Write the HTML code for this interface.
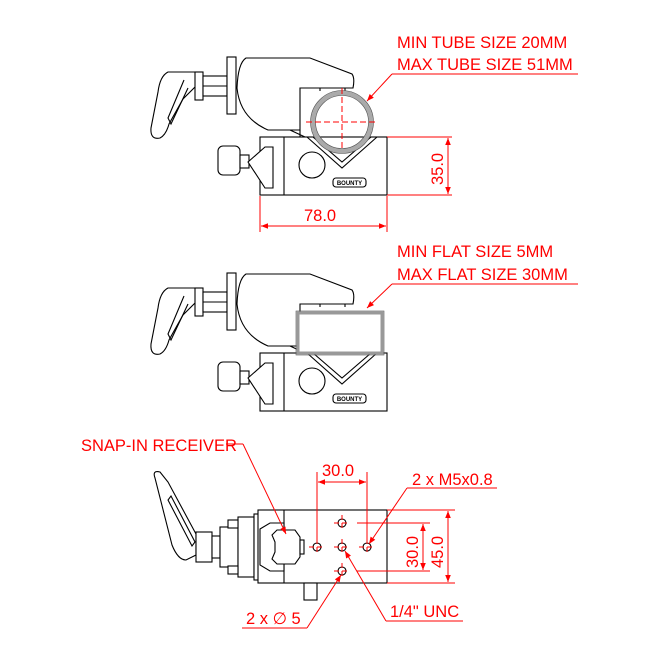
<!DOCTYPE html>
<html><head><style>html,body{margin:0;padding:0;background:#fff}svg{display:block}</style></head>
<body>
<svg width="670" height="670" viewBox="0 0 670 670" xmlns="http://www.w3.org/2000/svg">
<defs>
<marker id="a" viewBox="0 0 10 10" refX="10" refY="5" markerWidth="9" markerHeight="7" orient="auto-start-reverse" markerUnits="userSpaceOnUse"><path d="M0,1 L10,5 L0,9 z" fill="#f00"/></marker>
<g id="clamp" fill="#fff" stroke="#000" stroke-width="1.1">
  <path d="M180,72 L168,72 Q160,76 158,92 L151,128 Q150,140 160,138 Q166,135 169,124 L183,99 L196,86 L196,72 Z"/>
  <path d="M184,80 L168,118 L171,124 L188,88" fill="none"/>
  <rect x="195" y="72" width="8" height="28"/>
  <rect x="203" y="76" width="24" height="20"/>
  <line x1="203" y1="86" x2="227" y2="86"/>
  <rect x="227" y="57" width="9" height="57"/>
  <path d="M246,58 L310,58 L352,74 Q355,78 353,88 L300,88 L300,130 L268,130 Q240,118 237,88 Q238,63 246,58 Z"/>
  <line x1="320" y1="88" x2="320" y2="91"/><line x1="345" y1="88" x2="345" y2="91"/>
  <rect x="260" y="137" width="127" height="58"/>
  <line x1="284" y1="137" x2="284" y2="195"/>
  <path d="M300,130 L300,137 M290,130 L305,137" fill="none"/>
  <path d="M307,137 L342,168 L377,137" fill="none"/>
  <path d="M313,137 L342,162 L371,137" fill="none"/>
  <circle cx="312" cy="165" r="13"/>
  <rect x="333" y="178" width="33" height="9" rx="3"/>
  <text x="349.5" y="185" font-family="Liberation Sans,sans-serif" font-size="6" font-weight="bold" text-anchor="middle" fill="#000" stroke="none">BOUNTY</text>
  <rect x="218" y="146" width="22" height="29" rx="5"/>
  <rect x="240" y="155" width="9" height="13"/>
  <path d="M248,162 L265,147 L273,147 L273,188 L265,188 Z"/>
</g>
</defs>
<g font-family="Liberation Sans,sans-serif" font-size="16.5" fill="#f00">
<use href="#clamp"/>
<circle cx="342" cy="122" r="29" fill="none" stroke="#aaa" stroke-width="5"/>
<circle cx="342" cy="122" r="31.5" fill="none" stroke="#555" stroke-width="0.6"/>
<circle cx="342" cy="122" r="26.5" fill="none" stroke="#555" stroke-width="0.6"/>
<g stroke="#f00" stroke-width="1" fill="none">
<path d="M342,88 V150 M306,122 H378" stroke-dasharray="6,3"/>
<path d="M392,74 H578"/><path d="M392,74 L367,101" marker-end="url(#a)"/>
<path d="M387,137 H452 M387,195 H452"/>
<path d="M448,138 V194" marker-start="url(#a)" marker-end="url(#a)"/>
<path d="M260,196 V232 M387,196 V232"/>
<path d="M261,226 H386" marker-start="url(#a)" marker-end="url(#a)"/>
</g>
<text x="397" y="48">MIN TUBE SIZE 20MM</text>
<text x="397" y="70">MAX TUBE SIZE 51MM</text>
<text x="304" y="221">78.0</text>
<text transform="translate(443,185) rotate(-90)">35.0</text>
<g transform="translate(0,216)"><use href="#clamp"/></g>
<rect x="298" y="313" width="84" height="40" fill="#fff" stroke="#999" stroke-width="3"/>
<rect x="296" y="311" width="88" height="44" fill="none" stroke="#555" stroke-width="0.6"/>
<g stroke="#f00" stroke-width="1" fill="none">
<path d="M392,284 H578"/><path d="M392,284 L367,308" marker-end="url(#a)"/>
</g>
<text x="397" y="257">MIN FLAT SIZE 5MM</text>
<text x="397" y="280">MAX FLAT SIZE 30MM</text>
<g fill="#fff" stroke="#000" stroke-width="1.1">
<path d="M155,478 Q152,470 160,472 L168,482 L196,534 L196,555 L186,560 Q178,560 172,545 Z"/>
<path d="M168,500 L192,546 L195,542 L171,496 Z" fill="none"/>
<rect x="196" y="532" width="16" height="30"/>
<rect x="212" y="536" width="8" height="22"/>
<rect x="220" y="527" width="18" height="40"/>
<rect x="238" y="517" width="16" height="60"/>
<rect x="228" y="520" width="10" height="8"/><rect x="228" y="566" width="10" height="8"/>
<rect x="254" y="514" width="10" height="66"/>
<rect x="258" y="510" width="129" height="73"/>
<line x1="284" y1="510" x2="284" y2="583"/>
<path d="M260,529 L270,523 L284,523 L284,571 L270,571 L260,565 Z"/>
<path d="M272,535 L277,530 L295,530 L300,537 L300,557 L295,564 L277,564 L272,559 L275,552 L275,542 Z"/>
<rect x="300" y="540" width="4" height="14"/>
<rect x="304" y="583" width="13" height="17"/>
<circle cx="342" cy="523" r="4"/><circle cx="342" cy="547" r="4"/><circle cx="342" cy="571" r="4"/>
<circle cx="317" cy="547" r="4"/><circle cx="367" cy="547" r="4"/>
</g>
<g stroke="#f00" stroke-width="1" fill="none">
<path d="M342,515 V531 M342,539 V555 M342,563 V579 M334,523 H350 M334,547 H350 M334,571 H350 M309,547 H325 M317,539 V555 M359,547 H375 M367,539 V555" stroke-dasharray="5,3"/>
<path d="M317,472 V540 M367,472 V540"/>
<path d="M318,482 H366" marker-start="url(#a)" marker-end="url(#a)"/>
<path d="M357,523 H430 M357,571 H430"/>
<path d="M423,524 V570" marker-start="url(#a)" marker-end="url(#a)"/>
<path d="M387,510 H455 M387,583 H455"/>
<path d="M448,511 V582" marker-start="url(#a)" marker-end="url(#a)"/>
<path d="M226,444 H243"/><path d="M243,444 L286,534" marker-end="url(#a)"/>
<path d="M407,488 H497"/><path d="M407,488 L369,544" marker-end="url(#a)"/>
<path d="M386,621 H463"/><path d="M386,621 L345,551" marker-end="url(#a)"/>
<path d="M242,628 H307"/><path d="M307,628 L341,575" marker-end="url(#a)"/>
</g>
<text x="81" y="451">SNAP-IN RECEIVER</text>
<text x="322" y="476">30.0</text>
<text x="412" y="485">2 x M5x0.8</text>
<text transform="translate(418,568) rotate(-90)">30.0</text>
<text transform="translate(443,568) rotate(-90)">45.0</text>
<text x="390" y="617">1/4" UNC</text>
<text x="246" y="624">2 x ∅ 5</text>
</g>
</svg>
</body></html>
